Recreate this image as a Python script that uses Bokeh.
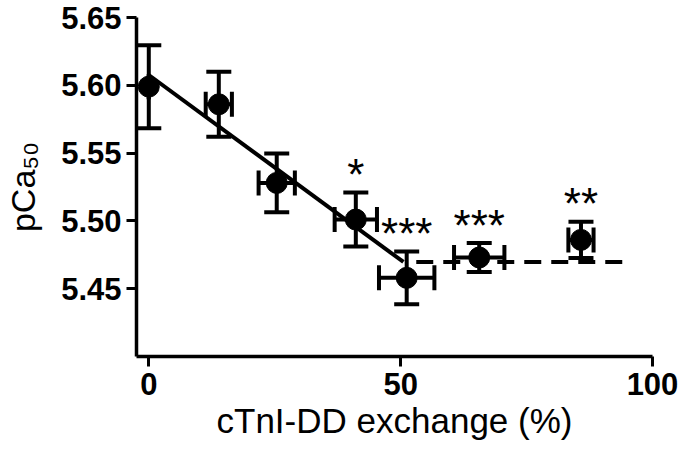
from bokeh.plotting import figure
from bokeh.models import (Range1d, FixedTicker, Whisker, TeeHead, ColumnDataSource,
                          NumeralTickFormatter)
from bokeh.embed import file_html
from bokeh.resources import INLINE
from bokeh.core.properties import value

# ---- data ----
exchange = [0.0, 13.9, 25.4, 41.1, 51.2, 65.6, 85.8]          # cTnI-DD exchange (%)
exchange_err = [0.0, 2.6, 3.6, 4.2, 5.5, 5.0, 2.5]
pca50 = [5.599, 5.586, 5.528, 5.501, 5.458, 5.473, 5.486]
pca50_err = [0.0306, 0.024, 0.0217, 0.0199, 0.0195, 0.0107, 0.0133]
significance = ["", "", "", "*", "***", "***", "**"]

# segmental fit: linear decline then plateau
fit_intercept = 5.6076
fit_slope = -0.002728
fit_plateau = 5.4697
plateau_span = [53.1, 94.4]

x_ticks = [0, 50, 100]
y_ticks = [5.45, 5.50, 5.55, 5.60, 5.65]

FONT = "Liberation Sans"

p = figure(width=680, height=456,
           x_range=Range1d(-2.44, 100), y_range=Range1d(5.40, 5.65),
           output_backend="svg", toolbar_location=None,
           min_border_left=136, min_border_right=28,
           min_border_top=17, min_border_bottom=100)
p.xgrid.visible = False
p.ygrid.visible = False
p.outline_line_color = None
p.background_fill_color = "white"
p.border_fill_color = "white"

for ax in (p.xaxis[0], p.yaxis[0]):
    ax.axis_line_width = 3.5
    ax.axis_line_color = "black"
    ax.major_tick_line_width = 3
    ax.major_tick_line_color = "black"
    ax.major_tick_out = 10
    ax.major_tick_in = 0
    ax.minor_tick_out = 0
    ax.minor_tick_in = 0
    ax.major_label_text_font = FONT
    ax.major_label_text_font_style = "bold"
    ax.major_label_text_font_size = "31px"
    ax.major_label_text_color = "black"
    ax.axis_label_text_font = FONT
    ax.axis_label_text_font_style = "normal"
    ax.axis_label_text_color = "black"

p.xaxis.ticker = FixedTicker(ticks=x_ticks)
p.yaxis.ticker = FixedTicker(ticks=y_ticks)
p.yaxis.formatter = NumeralTickFormatter(format="0.00")
p.xaxis.major_label_standoff = 6
p.yaxis.major_label_standoff = 5

p.xaxis.axis_label = "cTnI-DD exchange (%)"
p.xaxis.axis_label_text_font_size = "35px"
p.xaxis.axis_label_standoff = 3
p.yaxis.axis_label = "pCa\u2085\u2080"
p.yaxis.axis_label_text_font_size = "34px"
p.yaxis.axis_label_standoff = 16

# fit lines
break_x = (fit_plateau - fit_intercept) / fit_slope
p.line([0, break_x], [fit_intercept, fit_intercept + fit_slope * break_x],
       line_color="black", line_width=4)
p.line(plateau_span, [fit_plateau, fit_plateau],
       line_color="black", line_width=4, line_dash="17 10")

src = ColumnDataSource(dict(
    x=exchange, y=pca50,
    ylo=[v - e for v, e in zip(pca50, pca50_err)],
    yhi=[v + e for v, e in zip(pca50, pca50_err)],
    xlo=[v - e for v, e in zip(exchange, exchange_err)],
    xhi=[v + e for v, e in zip(exchange, exchange_err)],
    sig=significance,
))

def head():
    return TeeHead(size=25, line_width=4, line_color="black")

p.add_layout(Whisker(source=src, base="x", lower="ylo", upper="yhi", dimension="height",
                     line_width=4, line_color="black",
                     lower_head=head(), upper_head=head(), level="glyph"))
p.add_layout(Whisker(source=src, base="y", lower="xlo", upper="xhi", dimension="width",
                     line_width=4, line_color="black",
                     lower_head=head(), upper_head=head(), level="glyph"))

p.scatter("x", "y", source=src, size=21, fill_color="black", line_color="black")

p.text("x", "yhi", text="sig", source=src, text_font=value(FONT),
       text_font_size="44px", text_align="center", text_baseline="alphabetic",
       text_color="black", y_offset=-18)

open("out.html", "w").write(file_html(p, INLINE))
